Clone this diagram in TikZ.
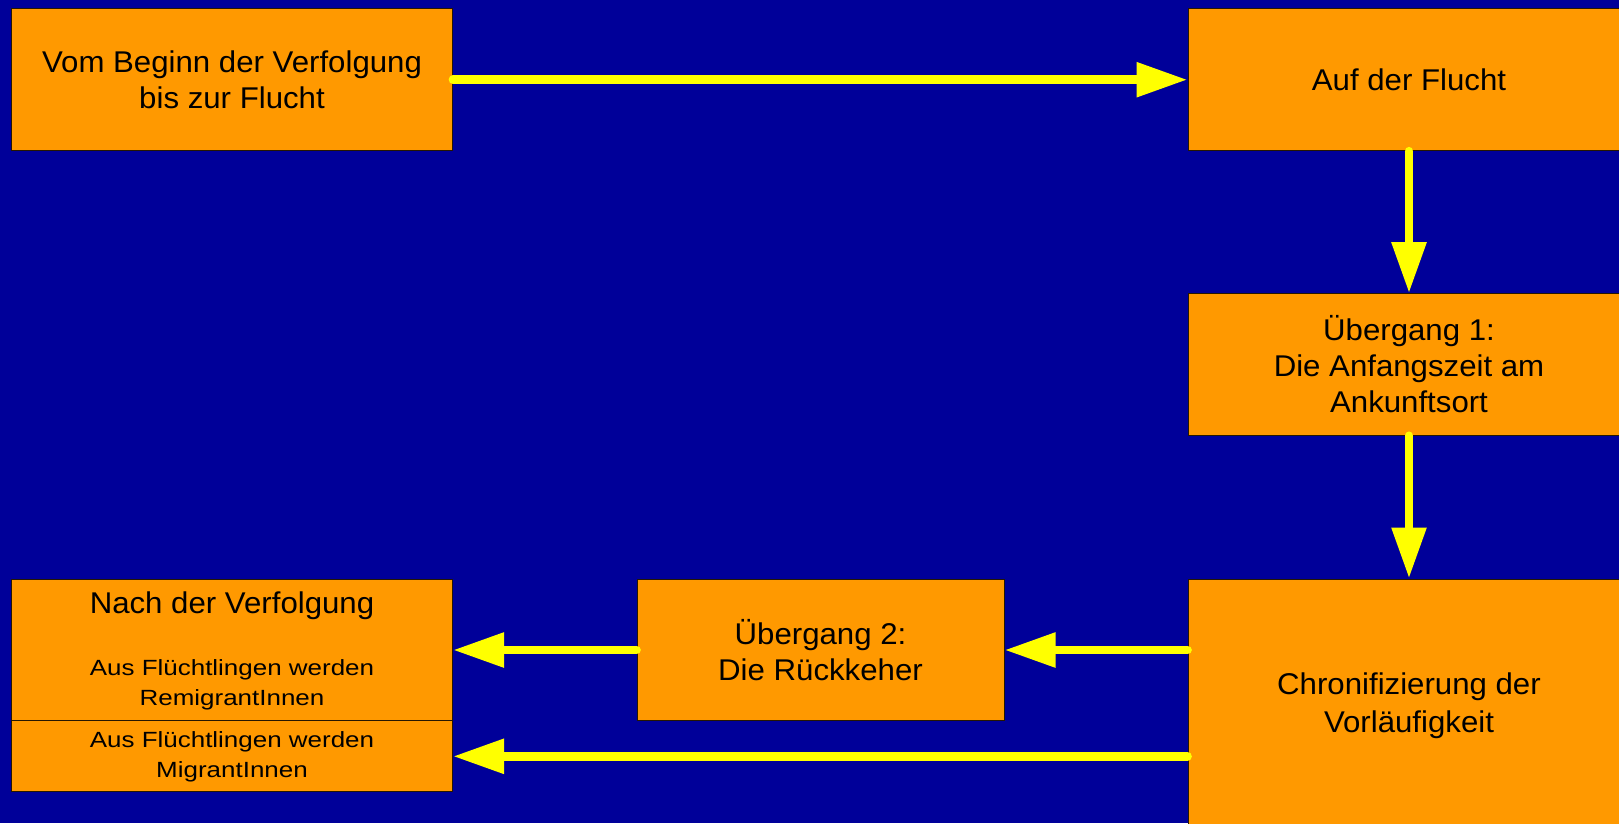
\documentclass[tikz,border=0pt]{standalone}
\usepackage{fontspec}
\setmainfont{Liberation Sans}[FakeStretch=1.04]
\newfontfamily\smallfont{Liberation Sans}[FakeStretch=1.18]
\usetikzlibrary{arrows.meta}
\definecolor{bg}{HTML}{000099}
\definecolor{boxor}{HTML}{FF9900}
\definecolor{arr}{HTML}{FFFF00}
\begin{document}
\begin{tikzpicture}[x=1pt,y=-1pt,
  box/.style={draw=black!85!boxor, line width=1pt, fill=boxor, inner sep=0pt, align=center,
    font=\fontsize{30}{36}\selectfont, text=black},
  flow/.style={draw=arr, line width=8.7pt, line cap=round, -{Triangle[length=51pt,width=33pt]}},
  lbl/.style={inner sep=0pt, anchor=base, text=black},
  smalltext/.style={font=\smallfont\fontsize{22}{30}\selectfont}
]
\fill[bg] (0,0) rectangle (1619,823);
\useasboundingbox (0,0) rectangle (1619,823);
\begin{scope}
\clip (0,0) rectangle (1619,823);
\node[box, minimum width=441pt, minimum height=142pt] (b1) at (232,79.7)
  {Vom Beginn der Verfolgung\\bis zur Flucht};
\node[box, minimum width=442pt, minimum height=142pt] (b2) at (1409,79.7)
  {Auf der Flucht};
\node[box, minimum width=442pt, minimum height=141.6pt] (b3) at (1409,364.5)
  {Übergang 1:\\Die Anfangszeit am\\Ankunftsort};
\node[box, minimum width=442pt, minimum height=253pt, font=\fontsize{30}{38}\selectfont] (b4) at (1409,705.5)
  {Chronifizierung der\\Vorläufigkeit};
\node[box, minimum width=367pt, minimum height=141.7pt] (ub2) at (820.5,650)
  {Übergang 2:\\Die Rückkeher};
\node[box, minimum width=441pt, minimum height=142pt] (nach) at (232,650) {};
\node[box, minimum width=441pt, minimum height=70.7pt, smalltext] (mig) at (232,756.3)
  {Aus Flüchtlingen werden\\MigrantInnen};
\node[lbl, font=\fontsize{30}{36}\selectfont] (nachT) at (232,613.3) {Nach der Verfolgung};
\node[lbl, smalltext] (nachA) at (232,675) {Aus Flüchtlingen werden};
\node[lbl, smalltext] (nachB) at (232,705.7) {RemigrantInnen};
\draw[flow] (b1.east) -- (b2.west);
\draw[flow] (b2.south) -- (b3.north);
\draw[flow] (b3.south) -- (b4.north);
\draw[flow] (b4.west |- ub2.east) -- (ub2.east);
\draw[flow] (ub2.west) -- (nach.east);
\draw[flow] (b4.west |- mig.east) -- (mig.east);
\end{scope}
\end{tikzpicture}
\end{document}
